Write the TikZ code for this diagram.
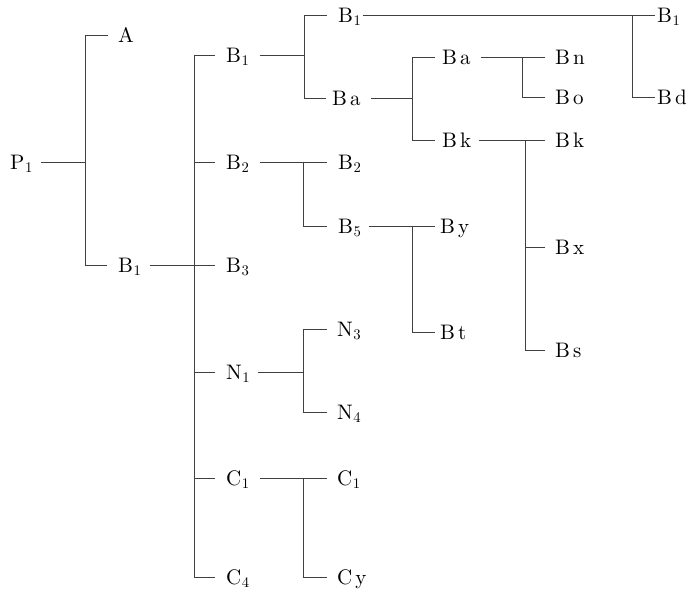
\documentclass[tikz,border=0pt]{standalone}
\usepackage{fontspec}
\newfontfamily\lmten{lmroman10-regular.otf}
\tikzset{
  lbl/.style={anchor=west, inner sep=0pt, text height=14.5pt, text depth=0pt, font=\lmten\fontsize{21}{25}\selectfont},
  ln/.style={line width=0.7pt, black!75}
}
\newcommand\sB[1]{B\kern0.5pt\textsubscript{#1}}
\newcommand\tw[2]{#1\kern3pt #2}
\newcommand\tick[3]{\draw[ln] (#1 |- #2.west) -- ([xshift=-#3pt]#2.west);}
\newcommand\inc[3]{\draw[ln] ([xshift=#3pt]#1.east) -- (#2 |- #1.east);}
\newcommand\brk[3]{\draw[ln] (#1 |- #2.west) -- (#1 |- #3.west);}
\begin{document}
\begin{tikzpicture}[x=1pt,y=-1pt]
\useasboundingbox (0,0) rectangle (689,596);
% junction x-coordinates
\coordinate (J1) at (85,0);
\coordinate (J2) at (194,0);
\coordinate (J3) at (304,0);
\coordinate (J4) at (632,0);
\coordinate (J5) at (412,0);
\coordinate (J6) at (522,0);
\coordinate (J7) at (525,0);
\coordinate (J8) at (303,0);
\coordinate (J9) at (412,0);
\coordinate (J10) at (303,0);
\coordinate (J11) at (303,0);
% nodes
\node[lbl] (P1) at (10,162) {P\kern0.5pt\textsubscript{1}};
\node[lbl] (A) at (118,35) {A};
\node[lbl] (Bl1) at (118,265) {\sB1};
\node[lbl] (Bm1) at (226,55) {\sB1};
\node[lbl] (Bm2) at (226,162) {\sB2};
\node[lbl] (Bm3) at (226,265) {\sB3};
\node[lbl] (Nm1) at (226,372) {N\kern0.5pt\textsubscript{1}};
\node[lbl] (Cm1) at (226,478) {C\kern0.5pt\textsubscript{1}};
\node[lbl] (Cm4) at (226,577) {C\kern0.5pt\textsubscript{4}};
\node[lbl] (Bt1) at (338,15) {\sB1};
\node[lbl] (Bta) at (332,98) {\tw Ba};
\node[lbl] (Bt2) at (338,162) {\sB2};
\node[lbl] (Bt5) at (338,226) {\sB5};
\node[lbl] (N3) at (337,329) {N\kern0.5pt\textsubscript{3}};
\node[lbl] (N4) at (337,412) {N\kern0.5pt\textsubscript{4}};
\node[lbl] (Ct1) at (337,478) {C\kern0.5pt\textsubscript{1}};
\node[lbl] (Cy) at (337,577) {\tw Cy};
\node[lbl] (Ba4) at (442,57) {\tw Ba};
\node[lbl] (Bk4) at (442,140) {\tw Bk};
\node[lbl] (By) at (440,226) {\tw By};
\node[lbl] (Bt) at (440,332) {\tw Bt};
\node[lbl] (Bn) at (555,57) {\tw Bn};
\node[lbl] (Bo) at (555,97) {\tw Bo};
\node[lbl] (Bk5) at (555,140) {\tw Bk};
\node[lbl] (Bx) at (555,247) {\tw Bx};
\node[lbl] (Bs) at (555,350) {\tw Bs};
\node[lbl] (Bf1) at (657,15) {\sB1};
\node[lbl] (Bd) at (657,97) {\tw Bd};
% bracket J1
\inc{P1}{J1}{8}
\brk{J1}{A}{Bl1}
\tick{J1}{A}{10}
\tick{J1}{Bl1}{11}
% bracket J2
\inc{Bl1}{J2}{8}
\brk{J2}{Bm1}{Cm4}
\tick{J2}{Bm1}{11}
\tick{J2}{Bm2}{11}
\tick{J2}{Bm3}{11}
\tick{J2}{Nm1}{11}
\tick{J2}{Cm1}{11}
\tick{J2}{Cm4}{11}
% bracket J3
\inc{Bm1}{J3}{10}
\brk{J3}{Bt1}{Bta}
\tick{J3}{Bt1}{11}
\tick{J3}{Bta}{6}
% bracket J4
\inc{Bt1}{J4}{1}
\brk{J4}{Bf1}{Bd}
\tick{J4}{Bf1}{2}
\tick{J4}{Bd}{2}
% bracket J5
\inc{Bta}{J5}{10}
\brk{J5}{Ba4}{Bk4}
\tick{J5}{Ba4}{7}
\tick{J5}{Bk4}{7}
% bracket J6
\inc{Ba4}{J6}{10}
\brk{J6}{Bn}{Bo}
\tick{J6}{Bn}{10}
\tick{J6}{Bo}{10}
% bracket J7
\inc{Bk4}{J7}{8}
\brk{J7}{Bk5}{Bs}
\tick{J7}{Bk5}{10}
\tick{J7}{Bx}{10}
\tick{J7}{Bs}{10}
% bracket J8
\inc{Bm2}{J8}{10}
\brk{J8}{Bt2}{Bt5}
\tick{J8}{Bt2}{11}
\tick{J8}{Bt5}{11}
% bracket J9
\inc{Bt5}{J9}{7}
\brk{J9}{By}{Bt}
\tick{J9}{By}{5}
\tick{J9}{Bt}{5}
% bracket J10
\inc{Nm1}{J10}{7}
\brk{J10}{N3}{N4}
\tick{J10}{N3}{10}
\tick{J10}{N4}{10}
% bracket J11
\inc{Cm1}{J11}{10}
\brk{J11}{Ct1}{Cy}
\tick{J11}{Ct1}{10}
\tick{J11}{Cy}{10}
\end{tikzpicture}
\end{document}
